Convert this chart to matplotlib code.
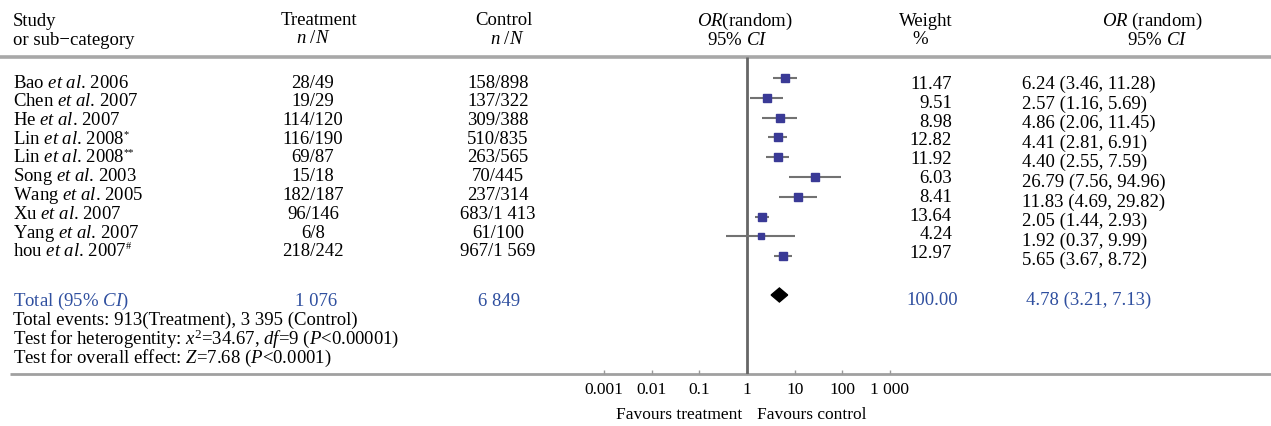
import matplotlib
matplotlib.use("Agg")
import matplotlib.pyplot as plt
import numpy as np

plt.rcParams['font.family'] = ['Liberation Serif', 'DejaVu Serif']
plt.rcParams['mathtext.fontset'] = 'custom'
plt.rcParams['mathtext.rm'] = 'Liberation Serif'
plt.rcParams['mathtext.it'] = 'Liberation Serif:italic'
plt.rcParams['mathtext.bf'] = 'Liberation Serif:bold'

# ---------------- data ----------------
authors = ["Bao", "Chen", "He", "Lin", "Lin", "Song", "Wang", "Xu", "Yang", "hou"]
years = ["2006", "2007", "2007", "2008", "2008", "2003", "2005", "2007", "2007", "2007"]
marks = ["", "", "", "*", "**", "", "", "", "", "#"]
treatment = ["28/49", "19/29", "114/120", "116/190", "69/87", "15/18", "182/187",
             "96/146", "6/8", "218/242"]
control = ["158/898", "137/322", "309/388", "510/835", "263/565", "70/445", "237/314",
           "683/1 413", "61/100", "967/1 569"]
weights = [11.47, 9.51, 8.98, 12.82, 11.92, 6.03, 8.41, 13.64, 4.24, 12.97]
or_est = [6.24, 2.57, 4.86, 4.41, 4.40, 26.79, 11.83, 2.05, 1.92, 5.65]
ci_low = [3.46, 1.16, 2.06, 2.81, 2.55, 7.56, 4.69, 1.44, 0.37, 3.67]
ci_high = [11.28, 5.69, 11.45, 6.91, 7.59, 94.96, 29.82, 2.93, 9.99, 8.72]
total_treat = "1 076"
total_control = "6 849"
total_weight = 100.00
total_or, total_low, total_high = 4.78, 3.21, 7.13
tick_values = [0.001, 0.01, 0.1, 1, 10, 100, 1000]
tick_labels = ["0.001", "0.01", "0.1", "1", "10", "100", "1 000"]

# ---------------- layout ----------------
W, H = 1271, 426
fig = plt.figure(figsize=(W / 100, H / 100), dpi=100)
bg = fig.add_axes([0, 0, 1, 1])
bg.set_xlim(0, W)
bg.set_ylim(H, 0)
bg.axis('off')
renderer = fig.canvas.get_renderer()

FS = 13.5
BLUE = "#2f4f9f"
n = len(authors)

# header
bg.text(13, 26, "Study", fontsize=FS, ha='left', va='baseline')
bg.text(13, 45, "or sub\u2212category", fontsize=FS, ha='left', va='baseline')
bg.text(319, 25, "Treatment", fontsize=FS, ha='center', va='baseline')
bg.text(313, 43, r"$n\ /N$", fontsize=FS, ha='center', va='baseline')
bg.text(504, 25, "Control", fontsize=FS, ha='center', va='baseline')
bg.text(507, 44, r"$n\ /N$", fontsize=FS, ha='center', va='baseline')
bg.text(745, 26, r"$OR$(random)", fontsize=FS, ha='center', va='baseline')
bg.text(737, 45, r"95% $CI$", fontsize=FS, ha='center', va='baseline')
bg.text(926, 26, "Weight", fontsize=FS, ha='center', va='baseline')
bg.text(920, 44, "%", fontsize=FS, ha='center', va='baseline')
bg.text(1152, 26, r"$OR$ (random)", fontsize=FS, ha='center', va='baseline')
bg.text(1157, 45, r"95% $CI$", fontsize=FS, ha='center', va='baseline')

# separator lines
bg.plot([0, W], [57, 57], color="#a8a8a8", lw=2.6, solid_capstyle='butt')
bg.plot([10, W], [374, 374], color="#a0a0a0", lw=2.0, solid_capstyle='butt')

# rows
inv = bg.transData.inverted()
for i in range(n):
    yl = 87.5 + 18.75 * i
    t = bg.text(13, yl, r"%s $et\ al$. %s" % (authors[i], years[i]),
                fontsize=FS, ha='left', va='baseline')
    if marks[i]:
        bb = t.get_window_extent(renderer)
        xe = inv.transform((bb.x1, bb.y0))[0]
        bg.text(xe - 1, yl - 7, marks[i], fontsize=7.5, ha='left', va='baseline')
    bg.text(313, yl, treatment[i], fontsize=FS, ha='center', va='baseline')
    bg.text(498, yl, control[i], fontsize=FS, ha='center', va='baseline')
    yw = 89 + 18.8 * i
    bg.text(952, yw, "%.2f" % weights[i], fontsize=FS, ha='right', va='baseline')
    yc = 89 + 19.6 * i
    bg.text(1022, yc, "%.2f (%.2f, %.2f)" % (or_est[i], ci_low[i], ci_high[i]),
            fontsize=FS, ha='left', va='baseline')

# totals
bg.text(13, 306, r"Total (95% $CI$)", fontsize=FS, ha='left', va='baseline', color=BLUE)
bg.text(316, 306, total_treat, fontsize=FS, ha='center', va='baseline', color=BLUE)
bg.text(499, 306, total_control, fontsize=FS, ha='center', va='baseline', color=BLUE)
bg.text(958, 305, "%.2f" % total_weight, fontsize=FS, ha='right', va='baseline', color=BLUE)
bg.text(1026, 305, "%.2f (%.2f, %.2f)" % (total_or, total_low, total_high),
        fontsize=FS, ha='left', va='baseline', color=BLUE)

# footer
bg.text(13, 325, "Total events: 913(Treatment), 3 395 (Control)", fontsize=FS,
        ha='left', va='baseline')
bg.text(13, 344, r"Test for heterogentity: $x^2$=34.67, $df$=9 ($P$<0.00001)",
        fontsize=FS, ha='left', va='baseline')
bg.text(13, 363, r"Test for overall effect: $Z$=7.68 ($P$<0.0001)", fontsize=FS,
        ha='left', va='baseline')

# favours labels
bg.text(742, 419, "Favours treatment", fontsize=12.5, ha='right', va='baseline')
bg.text(757, 419, "Favours control", fontsize=12.5, ha='left', va='baseline')

# ---------------- forest axes ----------------
x0, x1 = 604, 890
ax = fig.add_axes([x0 / W, (H - 374) / H, (x1 - x0) / W, 374 / H])
ax.set_xscale('log')
ax.set_xlim(tick_values[0], tick_values[-1])
ax.set_ylim(374, 0)
ax.patch.set_alpha(0)
for s in ['top', 'left', 'right', 'bottom']:
    ax.spines[s].set_visible(False)
ax.set_yticks([])
ax.set_xticks(tick_values)
ax.set_xticklabels(tick_labels)
ax.xaxis.set_minor_locator(matplotlib.ticker.NullLocator())
ax.tick_params(axis='x', direction='in', length=3, width=1, color="#999999",
               labelsize=12.5, pad=6)

ax.vlines(1, 57, 374, color="#666666", lw=2)

ys = [78 + 19.8 * i for i in range(n)]
ax.hlines(ys, ci_low, ci_high, color="#727272", lw=1.5)
for i in range(n):
    ms = 4.2 + 0.14 * weights[i]
    ax.plot(or_est[i], ys[i], 's', color="#3a3a96", ms=ms, mec="#3a3a96")

yd = 295
ax.fill([total_low, total_or, total_high, total_or],
        [yd, yd - 7, yd, yd + 7], color="black")

fig.savefig("out.png", dpi=100)
